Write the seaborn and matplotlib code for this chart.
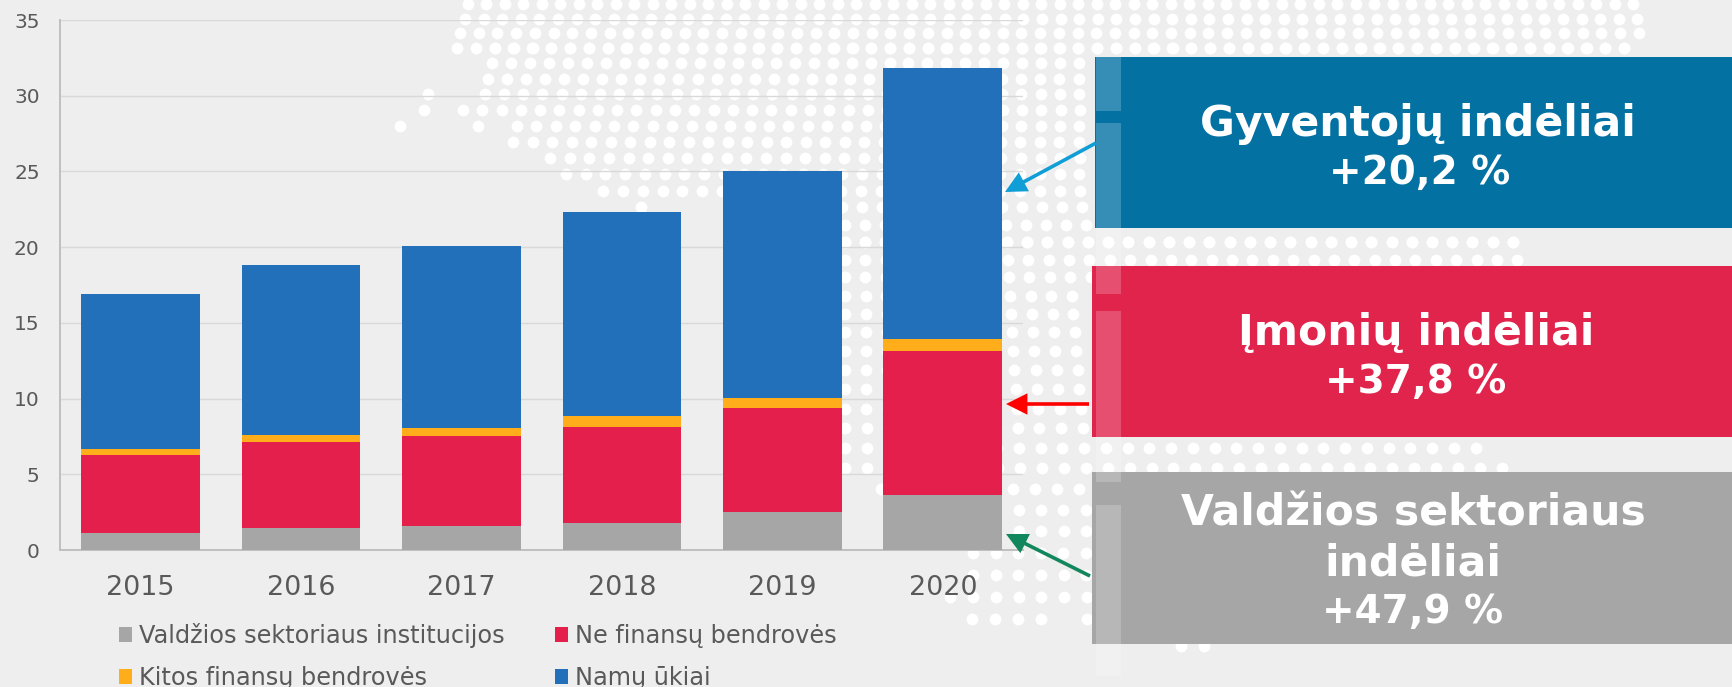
import numpy as np
import seaborn as sns
import matplotlib.pyplot as plt
from matplotlib.patches import Rectangle

# Data
years = ['2015', '2016', '2017', '2018', '2019', '2020']
valdzios = [1.1, 1.45, 1.6, 1.8, 2.5, 3.65]
ne_finansu = [5.15, 5.7, 5.9, 6.35, 6.85, 9.5]
kitos = [0.4, 0.45, 0.55, 0.7, 0.7, 0.8]
namu_ukiai = [10.25, 11.2, 12.0, 13.45, 14.95, 17.9]
y_ticks = [0, 5, 10, 15, 20, 25, 30, 35]

series_names = ['Valdžios sektoriaus institucijos', 'Ne finansų bendrovės',
                'Kitos finansų bendrovės', 'Namų ūkiai']
series_values = [valdzios, ne_finansu, kitos, namu_ukiai]
series_colors = ['#a6a6a6', '#e51f4b', '#ffad1a', '#2370ba']

# Background dot map, one segment per row (pixels)
dot_y = [4, 19, 33, 48, 48, 63, 63, 79, 79, 94, 94, 110, 110, 126, 126, 126, 142, 158, 174,
         191, 207, 207, 225, 242, 242, 260, 277, 296, 314, 332, 351, 370, 389, 409, 428,
         448, 468, 489, 510, 531, 553, 575, 597, 619, 619, 646]
dot_left = [468, 465, 460, 457, 495, 454, 492, 450, 488, 428, 485, 424, 463, 400, 478, 517, 513, 550, 566,
            603, 641, 842, 845, 845, 845, 845, 845, 845, 845, 845, 845, 845, 845, 845, 845,
            845, 845, 881, 1019, 1019, 973, 973, 950, 972, 1087, 1181]
dot_right = [1636, 1640, 1644, 1630, 1630, 430, 1090, 430, 1090, 430, 1090, 425, 1090, 401, 479, 1090, 1090, 1090, 1090,
             1090, 642, 1090, 1090, 1520, 1520, 1524, 1090, 1090, 1090, 1090, 1090, 1090, 1090, 1090, 1090,
             1490, 1512, 1090, 1090, 1090, 1090, 1090, 1090, 1043, 1090, 1206]

W, H = 1733, 687
sns.set_style('white')
plt.rcParams['font.family'] = ['DejaVu Sans']

fig = plt.figure(figsize=(W / 100, H / 100), dpi=100, facecolor='#eeeeee')

# Background layer
bg = fig.add_axes([0, 0, 1, 1], zorder=0)
bg.set_xlim(0, W)
bg.set_ylim(H, 0)
bg.axis('off')
dx, dy = [], []
for y, x0, x1 in zip(dot_y, dot_left, dot_right):
    step = 18.5 + (y - 4) * 4.5 / 615
    xs = np.arange(x0, x1 + 1, step)
    dx.extend(xs)
    dy.extend([y] * len(xs))
bg.scatter(dx, dy, s=72, color='white', linewidths=0)

# Chart
ax = fig.add_axes([60.5 / W, 1 - 550 / H, (1023 - 60.5) / W, 530 / H], zorder=1)
ax.patch.set_alpha(0)
bottom = np.zeros(len(years))
for name, vals, col in zip(series_names, series_values, series_colors):
    sns.barplot(x=years, y=vals, bottom=bottom, color=col, width=0.74, saturation=1,
                label=name, ax=ax, legend=False, zorder=3, linewidth=0)
    bottom = bottom + np.array(vals)

ax.set_xlim(-0.5, 5.5)
ax.set_ylim(0, 35)
ax.set_yticks(y_ticks)
ax.yaxis.grid(True, color='#d9d9d9', lw=1)
ax.set_axisbelow(True)
ax.tick_params(axis='y', length=0, pad=15, labelsize=14.5, labelcolor='#595959')
ax.tick_params(axis='x', length=0, pad=18, labelsize=19.4, labelcolor='#595959')
for s in ['top', 'right']:
    ax.spines[s].set_visible(False)
for s in ['left', 'bottom']:
    ax.spines[s].set_color('#bfbfbf')
    ax.spines[s].set_linewidth(1.4)

# legend is filled by column
h, l = ax.get_legend_handles_labels()
order = [0, 2, 1, 3]
ax.legend([h[i] for i in order], [l[i] for i in order], ncol=2, frameon=False,
          loc='upper left', bbox_to_anchor=(119 / W, 1 - 623 / H), bbox_transform=fig.transFigure,
          borderpad=0, borderaxespad=0, fontsize=17.3, labelcolor='#595959',
          handlelength=0.55, handleheight=0.55, handletextpad=0.28, columnspacing=2.1,
          labelspacing=0.74)

# Boxes, arrows and text on top
top = fig.add_axes([0, 0, 1, 1], zorder=2)
top.set_xlim(0, W)
top.set_ylim(H, 0)
top.axis('off')
top.patch.set_alpha(0)

top.add_patch(Rectangle((1095, 57), W - 1095, 171, color='#0471a3', lw=0))
top.add_patch(Rectangle((1092, 266), W - 1092, 171, color='#e1244c', lw=0))
top.add_patch(Rectangle((1092, 472), W - 1092, 172, color='#a6a6a6', lw=0))
for y0, y1 in [(57, 111), (123, 228), (228, 294), (311, 482), (505, 676)]:
    top.add_patch(Rectangle((1096, y0), 25, y1 - y0, color='white', alpha=0.2, lw=0))

for start, tip, col in [((1096, 143), (1005, 192), '#0f9ed5'),
                        ((1089, 404), (1006, 404), '#ff0000'),
                        ((1090, 576), (1006, 534), '#12875d')]:
    top.annotate('', xy=tip, xytext=start,
                 arrowprops=dict(arrowstyle='-|>', color=col, lw=2.6, mutation_scale=28,
                                 shrinkA=0, shrinkB=0, joinstyle='miter', capstyle='butt'))

labels = [('Gyventojų indėliai', 1418, 136, 30.6), ('+20,2 %', 1420, 184, 28),
          ('Įmonių indėliai', 1416, 345, 30.6), ('+37,8 %', 1416, 393, 28),
          ('Valdžios sektoriaus', 1413, 525, 30.6), ('indėliai', 1413, 575, 30.6),
          ('+47,9 %', 1413, 623, 28)]
for txt, x, y, size in labels:
    top.text(x, y, txt, color='white', fontsize=size, fontweight='bold', ha='center', va='baseline')

plt.savefig('out.png', dpi=100, facecolor=fig.get_facecolor())
